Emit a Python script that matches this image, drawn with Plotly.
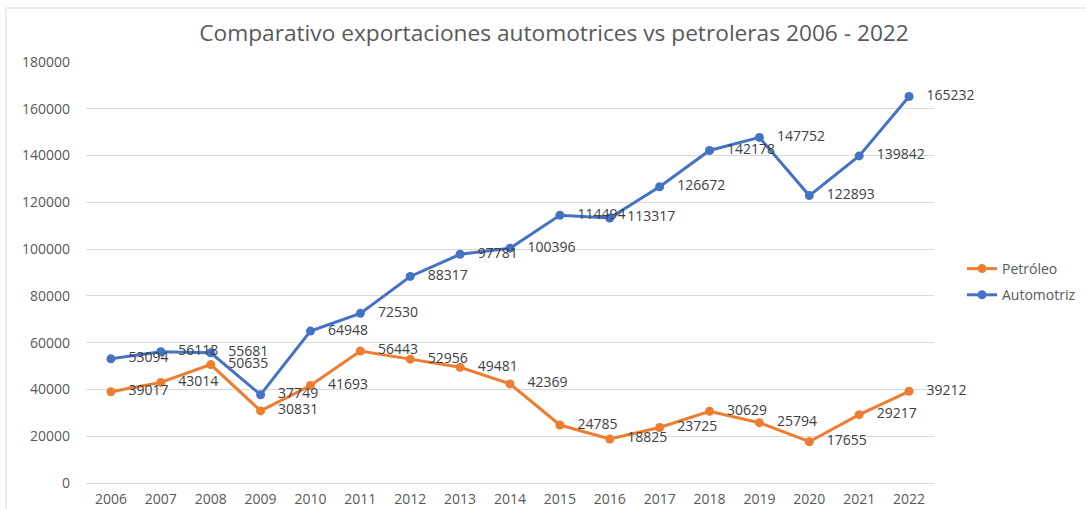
import plotly.graph_objects as go

years = [str(y) for y in range(2006, 2023)]
petroleo = [39017, 43014, 50635, 30831, 41693, 56443, 52956, 49481, 42369,
            24785, 18825, 23725, 30629, 25794, 17655, 29217, 39212]
automotriz = [53094, 56118, 55681, 37749, 64948, 72530, 88317, 97781, 100396,
              114494, 113317, 126672, 142178, 147752, 122893, 139842, 165232]

W, H = 1086, 509
ml, mr, mt, mb = 86, 152, 62, 26
pw, ph = W - ml - mr, H - mt - mb
FONT = "Open Sans, sans-serif"

fig = go.Figure()
for name, vals, col in [("Petróleo", petroleo, "#ED7D31"), ("Automotriz", automotriz, "#4472C4")]:
    fig.add_trace(go.Scatter(
        x=years, y=vals, name=name, legendgroup=name, mode="lines+markers+text",
        line=dict(color=col, width=3), marker=dict(color=col, size=9),
        text=["   " + str(v) for v in vals], textposition="middle right",
        textfont=dict(family=FONT, size=14, color="#404040"),
        cliponaxis=False,
    ))

fig.update_layout(
    width=W, height=H,
    margin=dict(l=ml, r=mr, t=mt, b=mb, autoexpand=False),
    paper_bgcolor="white", plot_bgcolor="white",
    title=dict(text="Comparativo exportaciones automotrices vs petroleras 2006 - 2022",
               x=554 / W, xanchor="center", y=1 - 33 / H, yanchor="middle",
               font=dict(family=FONT, size=22.7, color="#595959")),
    xaxis=dict(type="category", range=[-0.5, len(years) - 0.5], showgrid=False,
               showline=True, linecolor="#d9d9d9", ticks="", automargin=False,
               ticklabelstandoff=3,
               tickfont=dict(family=FONT, size=14, color="#595959")),
    yaxis=dict(range=[0, 180000], dtick=20000, tickformat="d", showgrid=True,
               gridcolor="#d9d9d9", zeroline=False, showline=False, ticks="",
               automargin=False, ticklabelstandoff=15,
               tickfont=dict(family=FONT, size=14, color="#595959")),
    legend=dict(x=(962 - ml) / pw, xanchor="left", y=1 - (253 - mt) / ph, yanchor="top",
                font=dict(family=FONT, size=14, color="#595959"),
                traceorder="grouped", tracegroupgap=5, bgcolor="rgba(0,0,0,0)"),
    showlegend=True,
)
fig.add_shape(type="rect", xref="paper", yref="paper",
              x0=(6 - ml) / pw, x1=(W + 5 - ml) / pw,
              y0=-(mb + 5) / ph, y1=1 + (mt - 8) / ph,
              line=dict(color="#d9d9d9", width=1), layer="below")

fig.write_html("out.html", config={"displayModeBar": False},
               post_script="document.body.style.margin='0';")
